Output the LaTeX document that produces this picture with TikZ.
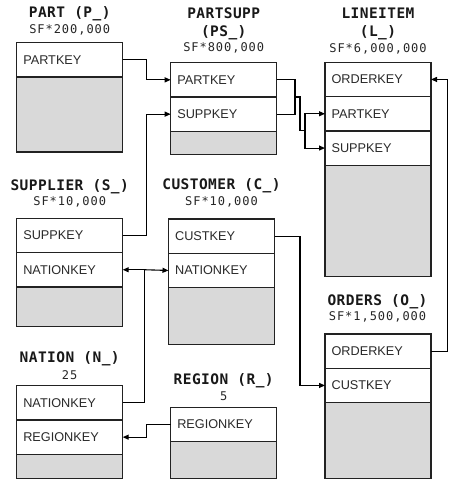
\documentclass[tikz,border=0pt]{standalone}
\usepackage{fontspec}
\setmainfont{Liberation Sans}
\newfontfamily\tmono[LetterSpace=3]{DejaVu Sans Mono}
\newfontfamily\smono[LetterSpace=8]{DejaVu Sans Mono}
\usetikzlibrary{arrows.meta,positioning}
\definecolor{gfill}{HTML}{D9D9D9}
\definecolor{edge}{HTML}{222222}
\definecolor{rtext}{HTML}{2A2A2A}
\begin{document}
\begin{tikzpicture}[x=1pt,y=-1pt,
  row/.style={draw=edge, line width=1.3pt, fill=white, minimum height=34.3pt,
    text width=92.8pt, inner xsep=6.6pt, inner ysep=0pt, outer sep=0pt, align=left,
    anchor=north west, font=\fontsize{12.7}{14}\selectfont, text=rtext},
  graybox/.style={draw=edge, line width=1.3pt, fill=gfill, minimum width=106pt,
    inner sep=0pt, outer sep=0pt},
  ttl/.style={font=\tmono\bfseries\fontsize{14.5}{16}\selectfont, anchor=base,
    inner sep=0pt, text=black!90},
  sub/.style={font=\smono\fontsize{12}{14}\selectfont, anchor=base,
    inner sep=0pt, text=black!85},
  link/.style={draw=black, line width=1.1pt},
  arr/.style={link, -{Triangle[length=6pt,width=5pt]}}
]
\useasboundingbox (0,0) rectangle (449,479);

% PART
\node[ttl] (partT) at (69.7,17.3) {PART (P\_)};
\node[sub] (partS) at (69.7,33.3) {SF*200,000};
\node[row] (partPK) at (16.7,42.7) {PARTKEY};
\node[graybox, minimum height=75pt, below=0pt of partPK] (partG) {};

% PARTSUPP
\node[ttl] (psT1) at (223.7,18.3) {PARTSUPP};
\node[ttl] (psT2) at (223.7,36) {(PS\_)};
\node[sub] (psS) at (223.7,51.7) {SF*800,000};
\node[row] (psPK) at (170.7,62.7) {PARTKEY};
\node[row, anchor=north, below=0pt of psPK] (psSK) {SUPPKEY};
\node[graybox, minimum height=23.3pt, below=0pt of psSK] (psG) {};

% LINEITEM
\node[ttl] (lT1) at (378,18.3) {LINEITEM};
\node[ttl] (lT2) at (378,36) {(L\_)};
\node[sub] (lS) at (378,52.7) {SF*6,000,000};
\node[row] (lOK) at (325,62.3) {ORDERKEY};
\node[row, anchor=north, below=0pt of lOK] (lPK) {PARTKEY};
\node[row, anchor=north, below=0pt of lPK] (lSK) {SUPPKEY};
\node[graybox, minimum height=111.3pt, below=0pt of lSK] (lG) {};

% SUPPLIER
\node[ttl] (sT) at (69.7,190.7) {SUPPLIER (S\_)};
\node[sub] (sS) at (69.7,205) {SF*10,000};
\node[row] (supPK) at (16.7,218.3) {SUPPKEY};
\node[row, anchor=north, below=0pt of supPK] (supNK) {NATIONKEY};
\node[graybox, minimum height=39.4pt, below=0pt of supNK] (supG) {};

% CUSTOMER
\node[ttl] (cT) at (221.5,189.3) {CUSTOMER (C\_)};
\node[sub] (cS) at (221.5,205) {SF*10,000};
\node[row] (cCK) at (168.5,219) {CUSTKEY};
\node[row, anchor=north, below=0pt of cCK] (cNK) {NATIONKEY};
\node[graybox, minimum height=56.7pt, below=0pt of cNK] (cG) {};

% ORDERS
\node[ttl] (oT) at (377.5,305) {ORDERS (O\_)};
\node[sub] (oS) at (377.5,320.5) {SF*1,500,000};
\node[row] (oOK) at (325,334) {ORDERKEY};
\node[row, anchor=north, below=0pt of oOK] (oCK) {CUSTKEY};
\node[graybox, minimum height=75.7pt, below=0pt of oCK] (oG) {};

% NATION
\node[ttl] (nT) at (69.7,362.3) {NATION (N\_)};
\node[sub] (nS) at (69.7,379) {25};
\node[row] (nNK) at (16.7,385.7) {NATIONKEY};
\node[row, anchor=north, below=0pt of nNK] (nRK) {REGIONKEY};
\node[graybox, minimum height=24.7pt, below=0pt of nRK] (nG) {};

% REGION
\node[ttl] (rT) at (223.7,384.3) {REGION (R\_)};
\node[sub] (rS) at (223.7,400) {5};
\node[row] (rRK) at (170.7,407.3) {REGIONKEY};
\node[graybox, minimum height=37.3pt, below=0pt of rRK] (rG) {};

% connectors
\draw[arr] (partPK.east) -- ++(24,0) |- (psPK.west);
\draw[arr] (supPK.east) -- ++(23.6,0) |- (psSK.west);
\draw[link] (psPK.east) -- ++(18.3,0) coordinate (j1) |- (psSK.east);
\draw[link] (j1 |- psPK.south) -- ++(5,0) coordinate (j2) -- (j2 |- lPK.south) -- ++(5,0) coordinate (j3);
\draw[arr] (j3) |- (lPK.west);
\draw[arr] (j3) |- (lSK.west);
\draw[arr] (oOK.east) -- ++(16.5,0) |- (lOK.east);
\draw[arr] (cCK.east) -- ++(25.5,0) |- (oCK.west);
\draw[link] (nNK.east) -- ++(22,0) coordinate (n1) -- (n1 |- supNK.east) coordinate (n2);
\draw[arr] (n2) -- (supNK.east);
\draw[arr] (n2) -- (cNK.west);
\draw[arr] (rRK.west) -- ++(-24,0) |- (nRK.east);
\end{tikzpicture}
\end{document}
